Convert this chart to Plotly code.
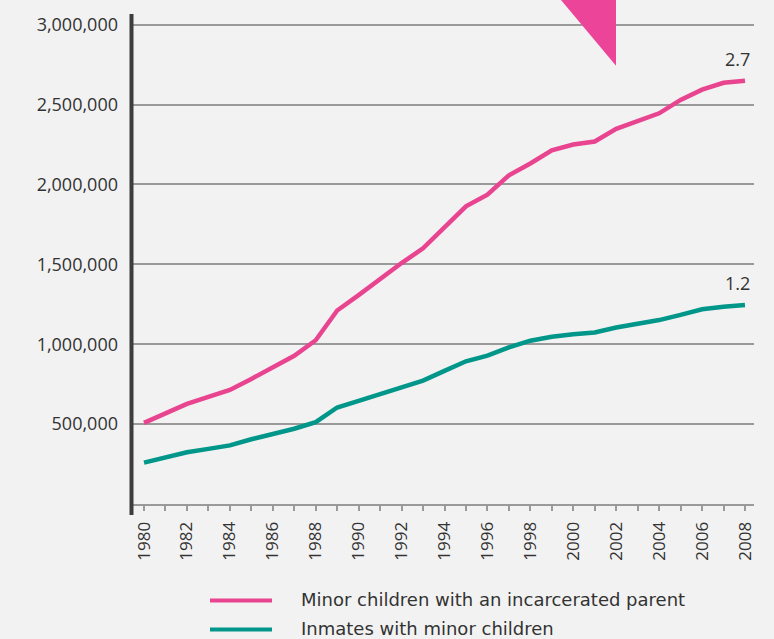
import plotly.graph_objects as go

years = list(range(1980, 2009))
minor_children = [508000, 567000, 627000, 670000, 714000, 783000, 855000, 928000, 1025000,
                  1211000, 1307000, 1408000, 1508000, 1600000, 1732000, 1863000, 1936000,
                  2057000, 2131000, 2213000, 2250000, 2269000, 2348000, 2393000, 2445000,
                  2529000, 2593000, 2636000, 2649000]
inmates = [259000, 291000, 324000, 345000, 367000, 405000, 438000, 471000, 512000,
           604000, 646000, 688000, 730000, 772000, 833000, 893000, 928000,
           980000, 1022000, 1047000, 1063000, 1074000, 1105000, 1128000, 1151000,
           1184000, 1219000, 1234000, 1246000]
series_names = ["Minor children with an incarcerated parent", "Inmates with minor children"]
end_labels = ["2.7", "1.2"]
y_ticks = [500000, 1000000, 1500000, 2000000, 2500000, 3000000]
x_ticks = list(range(1980, 2009, 2))

PINK = "#E8448F"
TEAL = "#00978A"
BG = "#F2F2F2"
TXT = "#333333"
GRID = "#9A9A9A"

W, H = 774, 639
ML, MR, MT, MB = 133, 20, 12, 135
pw, ph = W - ML - MR, H - MT - MB

fig = go.Figure()
for vals, col, name in [(minor_children, PINK, series_names[0]), (inmates, TEAL, series_names[1])]:
    fig.add_trace(go.Scatter(x=years, y=vals, mode="lines", name=name,
                             line=dict(color=col, width=4.5), showlegend=False,
                             hoverinfo="skip"))

# end labels
for vals, lab in [(minor_children, end_labels[0]), (inmates, end_labels[1])]:
    fig.add_annotation(x=years[-1], y=vals[-1], text=lab, showarrow=False,
                       xanchor="center", yanchor="bottom", xshift=-7, yshift=8,
                       font=dict(size=18, color=TXT, family="Open Sans"))

# thick y axis line (extends below x axis)
fig.add_shape(type="line", xref="paper", yref="paper",
              x0=-1.5 / pw, x1=-1.5 / pw, y0=-11 / ph, y1=1,
              line=dict(color="#3D3D3D", width=4))

def px(xp):
    return (xp - ML) / pw
def py(yp):
    return (H - MB - yp) / ph

# decorative pink triangle at top
fig.add_shape(type="path", xref="paper", yref="paper",
              path=f"M {px(561)} {py(-2)} L {px(616)} {py(-2)} L {px(616)} {py(64)} Z",
              fillcolor="#EC4499", line=dict(width=0), layer="above")

# manual legend
for i, (col, name) in enumerate([(PINK, series_names[0]), (TEAL, series_names[1])]):
    yy = 601 + i * 29
    fig.add_shape(type="line", xref="paper", yref="paper",
                  x0=px(210), x1=px(272), y0=py(yy), y1=py(yy),
                  line=dict(color=col, width=4))
    fig.add_annotation(xref="paper", yref="paper", x=px(299), y=py(yy - 1),
                       text=name, showarrow=False, xanchor="left", yanchor="middle",
                       font=dict(size=18, color=TXT, family="DejaVu Sans"))

fig.update_layout(
    width=W, height=H,
    margin=dict(l=ML, r=MR, t=MT, b=MB),
    paper_bgcolor=BG, plot_bgcolor=BG,
    font=dict(family="Open Sans", color=TXT),
    xaxis=dict(range=[1979.487, 2008.42], tickvals=x_ticks, ticktext=[str(v) for v in x_ticks],
               tickangle=-90, ticks="outside", ticklen=5, tickwidth=1.5, tickcolor=GRID,
               minor=dict(dtick=1, tick0=1980, ticks="outside", ticklen=5, tickwidth=1.5,
                          tickcolor=GRID, showgrid=False),
               showgrid=False, zeroline=False, showline=True, linecolor=GRID, linewidth=2,
               tickfont=dict(size=17, color=TXT), ticklabelstandoff=4, fixedrange=True),
    yaxis=dict(range=[0, 3066700], tickvals=y_ticks, ticktext=[f"{v:,}" for v in y_ticks],
               showgrid=True, gridcolor=GRID, gridwidth=1.5, zeroline=False, showline=False,
               ticks="", tickfont=dict(size=18, color=TXT), ticklabelstandoff=14,
               fixedrange=True),
)

fig.write_html("out.html", config={"displayModeBar": False},
               post_script="document.body.style.margin='0';document.body.style.overflow='hidden';")
